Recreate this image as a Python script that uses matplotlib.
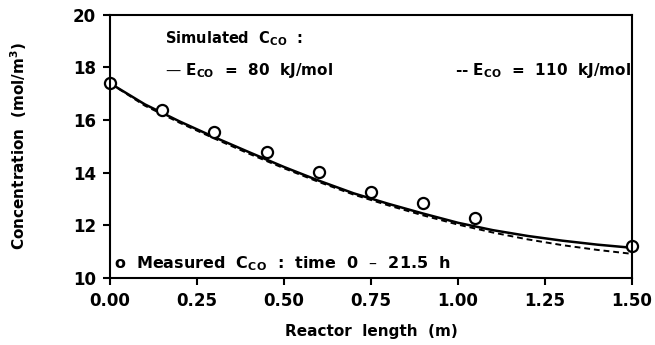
import matplotlib
matplotlib.use("Agg")
import matplotlib.pyplot as plt

plt.rcParams['font.family'] = ['DejaVu Sans']
plt.rcParams['font.weight'] = 'bold'
plt.rcParams['mathtext.fontset'] = 'dejavusans'
plt.rcParams['mathtext.default'] = 'bf'

# measured CO concentration along the reactor
x_meas = [0.00, 0.15, 0.30, 0.45, 0.60, 0.75, 0.90, 1.05, 1.50]
c_meas = [17.4, 16.4, 15.55, 14.8, 14.03, 13.27, 12.85, 12.28, 11.2]

# simulated profiles
x_sim = [0.0, 0.1, 0.2, 0.3, 0.4, 0.5, 0.6, 0.7, 0.8, 0.9, 1.0, 1.1, 1.2, 1.3, 1.4, 1.5]
c_80 = [17.4, 16.6, 15.95, 15.35, 14.78, 14.22, 13.7, 13.22, 12.82, 12.45,
        12.1, 11.82, 11.6, 11.42, 11.27, 11.15]
c_110 = [17.4, 16.55, 15.9, 15.3, 14.72, 14.17, 13.65, 13.17, 12.76, 12.38,
         12.03, 11.73, 11.47, 11.25, 11.07, 10.92]

xticks = [0.0, 0.25, 0.5, 0.75, 1.0, 1.25, 1.5]
yticks = [10, 12, 14, 16, 18, 20]

fig = plt.figure(figsize=(6.55, 3.45), dpi=100)
ax = fig.add_axes([0.168, 0.194, 0.797, 0.763])

ax.plot(x_sim, c_80, color='black', lw=1.8)
ax.plot(x_sim, c_110, color='black', lw=1.4, ls=(0, (3, 2)))
ax.plot(x_meas, c_meas, 'o', mfc='white', mec='black', ms=8, mew=1.6, clip_on=False)

ax.set_xlim(0, 1.5)
ax.set_ylim(10, 20)
ax.set_xticks(xticks)
ax.set_xticklabels(['0.00', '0.25', '0.50', '0.75', '1.00', '1.25', '1.50'])
ax.set_yticks(yticks)
ax.tick_params(direction='out', length=5, width=1.5, labelsize=12, pad=5)
for s in ax.spines.values():
    s.set_linewidth(1.5)

ax.set_xlabel('Reactor  length  (m)', fontsize=11, fontweight='bold', labelpad=10)
ax.set_ylabel('Concentration  (mol/m$^3$)', fontsize=11, fontweight='bold', labelpad=32)

ax.text(0.105, 0.91, 'Simulated  C$_{CO}$  :', transform=ax.transAxes, fontsize=10.5,
        va='center')
ax.text(0.105, 0.79, '\u2014 E$_{CO}$  =  80  kJ/mol', transform=ax.transAxes, fontsize=11,
        va='center')
ax.text(0.997, 0.79, '-- E$_{CO}$  =  110  kJ/mol', transform=ax.transAxes, fontsize=11,
        va='center', ha='right')
ax.text(0.008, 0.055, 'o  Measured  C$_{CO}$  :  time  0  \u2013  21.5  h',
        transform=ax.transAxes, fontsize=11.5, va='center')

fig.savefig('out.png', dpi=100)
